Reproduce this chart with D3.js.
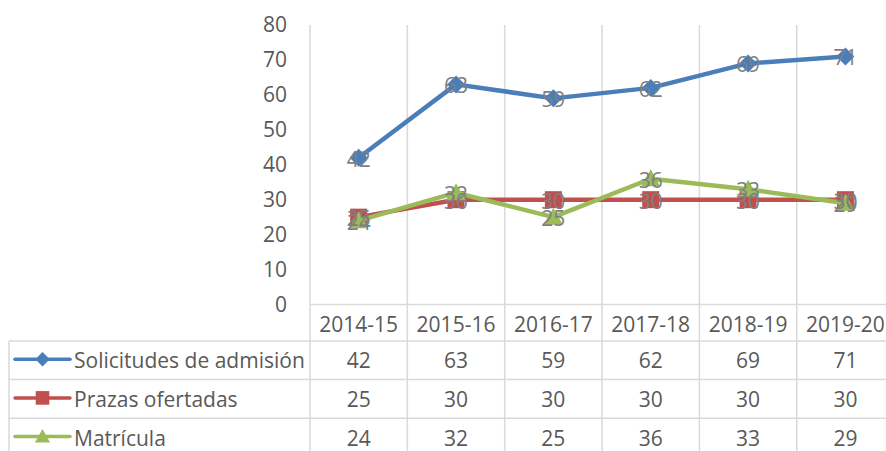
<!DOCTYPE html>
<html>
<head>
<meta charset="utf-8">
<script src="https://cdn.jsdelivr.net/npm/d3@7"></script>
<style>
  html, body { margin: 0; padding: 0; background: #fff; overflow: hidden; }
  svg { display: block; }
  text { font-family: "Open Sans", sans-serif; }
</style>
</head>
<body>
<svg id="chart" width="886" height="451"></svg>
<script>
const categories = ["2014-15", "2015-16", "2016-17", "2017-18", "2018-19", "2019-20"];
const solicitudes = [42, 63, 59, 62, 69, 71];
const prazas = [25, 30, 30, 30, 30, 30];
const matricula = [24, 32, 25, 36, 33, 29];
const seriesNames = ["Solicitudes de admisión", "Prazas ofertadas", "Matrícula"];
const yTicks = [0, 10, 20, 30, 40, 50, 60, 70, 80];

const series = [
  { name: seriesNames[0], values: solicitudes, color: "#4A7EBB", marker: "diamond" },
  { name: seriesNames[1], values: prazas, color: "#C0504D", marker: "square" },
  { name: seriesNames[2], values: matricula, color: "#9BBB59", marker: "triangle" }
];

const svg = d3.select("#chart");
const plotLeft = 310, colW = 97.35;
const plotTop = 25, plotBottom = 304.5;
const gridColor = "#d9d9d9";
const textColor = "#595959";
const labelColor = "#7f7f7f";
const fs = "21px";

const x = d3.scaleBand().domain(categories).range([plotLeft, plotLeft + colW * categories.length]).padding(0);
const y = d3.scaleLinear().domain([0, 80]).range([plotBottom, plotTop]);
const cx = d => x(d) + x.bandwidth() / 2;

// table geometry
const headerTop = plotBottom, headerBottom = 341;
const rowH = 38.6;
const legendLeft = 9;
const rowTops = series.map((s, i) => headerBottom + i * rowH);
const tableBottom = headerBottom + series.length * rowH;
const tableRight = x.range()[1];

// vertical gridlines (category boundaries) through plot and table
const bounds = categories.map(c => x(c)).concat([tableRight]);
svg.append("g").selectAll("line").data(bounds).join("line")
  .attr("x1", d => d).attr("x2", d => d)
  .attr("y1", plotTop).attr("y2", tableBottom)
  .attr("stroke", gridColor).attr("stroke-width", 1.5);

// table horizontal lines
svg.append("line").attr("x1", plotLeft).attr("x2", tableRight)
  .attr("y1", headerTop).attr("y2", headerTop)
  .attr("stroke", gridColor).attr("stroke-width", 1.5);
rowTops.concat([tableBottom]).forEach(yy => {
  svg.append("line").attr("x1", legendLeft).attr("x2", tableRight)
    .attr("y1", yy).attr("y2", yy)
    .attr("stroke", gridColor).attr("stroke-width", 1.5);
});
svg.append("line").attr("x1", legendLeft).attr("x2", legendLeft)
  .attr("y1", headerBottom).attr("y2", tableBottom)
  .attr("stroke", gridColor).attr("stroke-width", 1.5);

// y axis
const yAxis = d3.axisLeft(y).tickValues(yTicks).tickSize(0).tickPadding(23);
const gy = svg.append("g").attr("transform", `translate(${plotLeft},0)`).call(yAxis);
gy.select(".domain").remove();
gy.selectAll("text").attr("fill", textColor).style("font-size", fs).style("font-family", "'Open Sans', sans-serif");

// category header labels
svg.append("g").selectAll("text").data(categories).join("text")
  .attr("x", d => cx(d)).attr("y", (headerTop + headerBottom) / 2 + 1)
  .attr("text-anchor", "middle").attr("dominant-baseline", "central")
  .attr("fill", textColor).style("font-size", fs).text(d => d);

function drawMarker(g, type, color, px, py, scale) {
  if (type === "diamond") {
    const r = 9 * scale;
    g.append("path").attr("d", `M${px},${py - r}L${px + r},${py}L${px},${py + r}L${px - r},${py}Z`).attr("fill", color);
  } else if (type === "square") {
    const r = 8.5 * scale;
    g.append("rect").attr("x", px - r).attr("y", py - r).attr("width", 2 * r).attr("height", 2 * r).attr("fill", color);
  } else {
    const r = 9.5 * scale;
    g.append("path").attr("d", `M${px},${py - r}L${px + r},${py + r * 0.8}L${px - r},${py + r * 0.8}Z`).attr("fill", color);
  }
}

// lines and markers
const lineGen = d3.line().x((d, i) => cx(categories[i])).y(d => y(d));
series.forEach(s => {
  const g = svg.append("g");
  g.append("path").datum(s.values).attr("d", lineGen)
    .attr("fill", "none").attr("stroke", s.color).attr("stroke-width", 4.5)
    .attr("stroke-linejoin", "round").attr("stroke-linecap", "round");
  s.values.forEach((v, i) => drawMarker(g, s.marker, s.color, cx(categories[i]), y(v), 1));
});

// data labels (centered on points, as in the reference)
series.forEach(s => {
  svg.append("g").selectAll("text").data(s.values).join("text")
    .attr("x", (d, i) => cx(categories[i])).attr("y", d => y(d) + 1)
    .attr("text-anchor", "middle").attr("dominant-baseline", "central")
    .attr("fill", labelColor).style("font-size", fs).text(d => d);
});

// table rows: legend keys, names, values
series.forEach((s, i) => {
  const rc = rowTops[i] + rowH / 2;
  const g = svg.append("g");
  g.append("line").attr("x1", 15).attr("x2", 70).attr("y1", rc - 1).attr("y2", rc - 1)
    .attr("stroke", s.color).attr("stroke-width", 3.5).attr("stroke-linecap", "round");
  drawMarker(g, s.marker, s.color, 42.5, rc - 1, 0.8);
  g.append("text").attr("x", 74).attr("y", rc)
    .attr("dominant-baseline", "central").attr("fill", textColor)
    .style("font-size", fs).text(s.name);
  g.selectAll("text.v").data(s.values).join("text").attr("class", "v")
    .attr("x", (d, j) => cx(categories[j])).attr("y", rc)
    .attr("text-anchor", "middle").attr("dominant-baseline", "central")
    .attr("fill", textColor).style("font-size", fs).text(d => d);
});
</script>
</body>
</html>
